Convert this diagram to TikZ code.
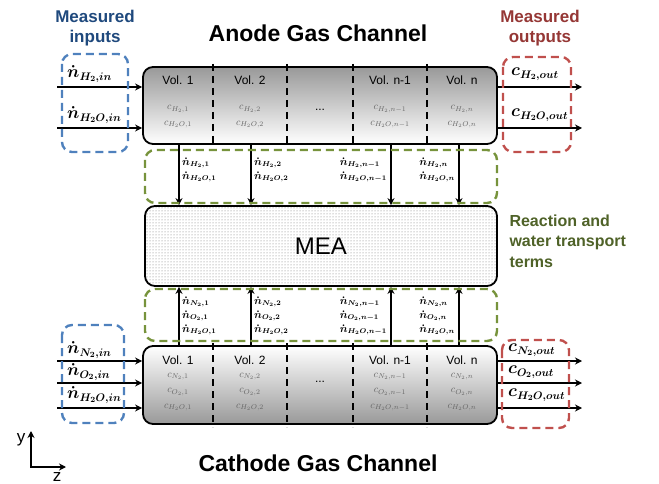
\documentclass[tikz,border=0pt]{standalone}
\usepackage{fontspec}
\setmainfont{Liberation Sans}
\usepackage{tikz}
\usetikzlibrary{positioning,patterns,arrows.meta}

\definecolor{inblue}{RGB}{79,129,189}
\definecolor{inbluetxt}{RGB}{31,73,125}
\definecolor{outred}{RGB}{192,80,77}
\definecolor{outredtxt}{RGB}{149,55,53}
\definecolor{rxgreen}{RGB}{119,147,60}
\definecolor{rxgreentxt}{RGB}{79,98,40}

\begin{document}
\begin{tikzpicture}[x=1pt, y=-1pt,
        chan/.style={draw, line width=1.8pt, rounded corners=10pt, minimum width=354pt},
        grp/.style={line width=2.4pt, dash pattern=on 8pt off 5pt, rounded corners=10pt},
        flow/.style={-{Stealth[length=7pt,width=7pt]}, line width=1.5pt},
        divider/.style={line width=1.8pt, dash pattern=on 7pt off 5pt},
        vol/.style={font=\fontsize{12}{14}\selectfont},
        conc/.style={font=\fontsize{10}{15.5}\selectfont, text=black!60, align=center},
        flux/.style={font=\fontsize{10.5}{14}\selectfont\boldmath, align=left, inner sep=1pt},
        meas/.style={font=\fontsize{16}{18}\selectfont\boldmath, inner sep=0pt},
        head/.style={font=\fontsize{17}{20}\selectfont\bfseries, align=center},
        title/.style={font=\fontsize{23}{26}\selectfont\bfseries}
    ]

    \useasboundingbox (0,0) rectangle (659,484);

    \node[chan, minimum height=77pt, top color=black!40, bottom color=white] (anode) at (320,105.5) {};
    \node[chan, minimum height=78pt, top color=white, bottom color=black!40] (cathode) at (320,385) {};
    \node[draw, line width=1.8pt, rounded corners=10pt, minimum width=352pt, minimum height=80pt,
        pattern=dots, pattern color=black!55, font=\fontsize{24}{26}\selectfont] (mea) at (321,246) {MEA};

    \foreach \x in {213,287,353,427} {
        \draw[divider] (\x,64) -- (\x,147);
        \draw[divider] (\x,343) -- (\x,427);
    }

    \foreach \x/\v [count=\i] in {178/1,250/2,390/n-1,462/n} {
        \node[vol] (avol\i) at (\x,80) {Vol. \v};
        \node[conc] (aconc\i) at (\x,117) {$c_{H_2,\v}$\\$c_{H_2O,\v}$};
        \node[vol] (cvol\i) at (\x,360) {Vol. \v};
        \node[conc] (cconc\i) at (\x,392) {$c_{N_2,\v}$\\$c_{O_2,\v}$\\$c_{H_2O,\v}$};
    }
    \node[vol] (adots) at (320,110) {...};
    \node[vol] (cdots) at (320,382) {...};

    % inputs and outputs
    \foreach \y [count=\i] in {87,128} {
        \coordinate (ain\i) at (57,\y);
        \coordinate (aout\i) at (582,\y);
        \draw[flow] (ain\i) -- (ain\i -| anode.west);
        \draw[flow] (aout\i -| anode.east) -- (aout\i);
    }
    \foreach \y [count=\i] in {361,383,408} {
        \coordinate (cin\i) at (57,\y);
        \coordinate (cout\i) at (582,\y);
        \draw[flow] (cin\i) -- (cin\i -| cathode.west);
        \draw[flow] (cout\i -| cathode.east) -- (cout\i);
    }

    \node[meas, anchor=west] (ainlbl1) at (67,74) {$\dot n_{H_2,in}$};
    \node[meas, anchor=west] (ainlbl2) at (67,115) {$\dot n_{H_2O,in}$};
    \node[meas, anchor=west] (cinlbl1) at (67,350) {$\dot n_{N_2,in}$};
    \node[meas, anchor=west] (cinlbl2) at (67,372) {$\dot n_{O_2,in}$};
    \node[meas, anchor=west] (cinlbl3) at (67,395) {$\dot n_{H_2O,in}$};

    \node[meas, anchor=west] (aoutlbl1) at (511,74) {$c_{H_2,out}$};
    \node[meas, anchor=west] (aoutlbl2) at (511,115) {$c_{H_2O,out}$};
    \node[meas, anchor=west] (coutlbl1) at (508,350) {$c_{N_2,out}$};
    \node[meas, anchor=west] (coutlbl2) at (508,372) {$c_{O_2,out}$};
    \node[meas, anchor=west] (coutlbl3) at (508,395) {$c_{H_2O,out}$};

    % reaction and transport fluxes
    \foreach \x/\v/\side/\dx [count=\i] in {179/1/west/2,251/2/west/2,391/n-1/east/-3,459/n/east/-3} {
        \draw[flow] (\x,0 |- anode.south) -- (\x,0 |- mea.north);
        \draw[flow] (\x,0 |- cathode.north) -- (\x,0 |- mea.south);
        \node[flux, anchor=\side] (aflux\i) at (\x+\dx,170) {$\dot n_{H_2,\v}$\\$\dot n_{H_2O,\v}$};
        \node[flux, anchor=\side] (cflux\i) at (\x+\dx,316) {$\dot n_{N_2,\v}$\\$\dot n_{O_2,\v}$\\$\dot n_{H_2O,\v}$};
    }

    \draw[grp, rxgreen] (145,150) rectangle (497,203);
    \draw[grp, rxgreen] (145,289) rectangle (497,341);
    \draw[grp, inblue] (62,54) rectangle (128,152);
    \draw[grp, inblue] (62,325) rectangle (124,423);
    \draw[grp, outred] (503,57) rectangle (571,152);
    \draw[grp, outred] (502,340) rectangle (569,428);

    \node[head, text=inbluetxt] (measin) at (95,28) {Measured\\inputs};
    \node[head, text=outredtxt] (measout) at (540,28) {Measured\\outputs};
    \node[head, text=rxgreentxt, anchor=west, align=left, font=\fontsize{16}{20.5}\selectfont\bfseries] (rxterms) at (506,241) {Reaction and\\water transport\\terms};

    \node[title] (anodettl) at (318,33) {Anode Gas Channel};
    \node[title] (cathodettl) at (318,463) {Cathode Gas Channel};

    % axes
    \coordinate (org) at (31,467);
    \coordinate (ytip) at (31,431);
    \coordinate (ztip) at (66,467);
    \draw[flow, line cap=rect] (org) -- (ytip);
    \draw[flow, line cap=rect] (org) -- (ztip);
    \node[font=\fontsize{17}{19}\selectfont, left=2pt of ytip, yshift=-9pt] (ylbl) {y};
    \node[font=\fontsize{17}{19}\selectfont, below=2pt of org, xshift=26pt] (zlbl) {z};

\end{tikzpicture}
\end{document}
